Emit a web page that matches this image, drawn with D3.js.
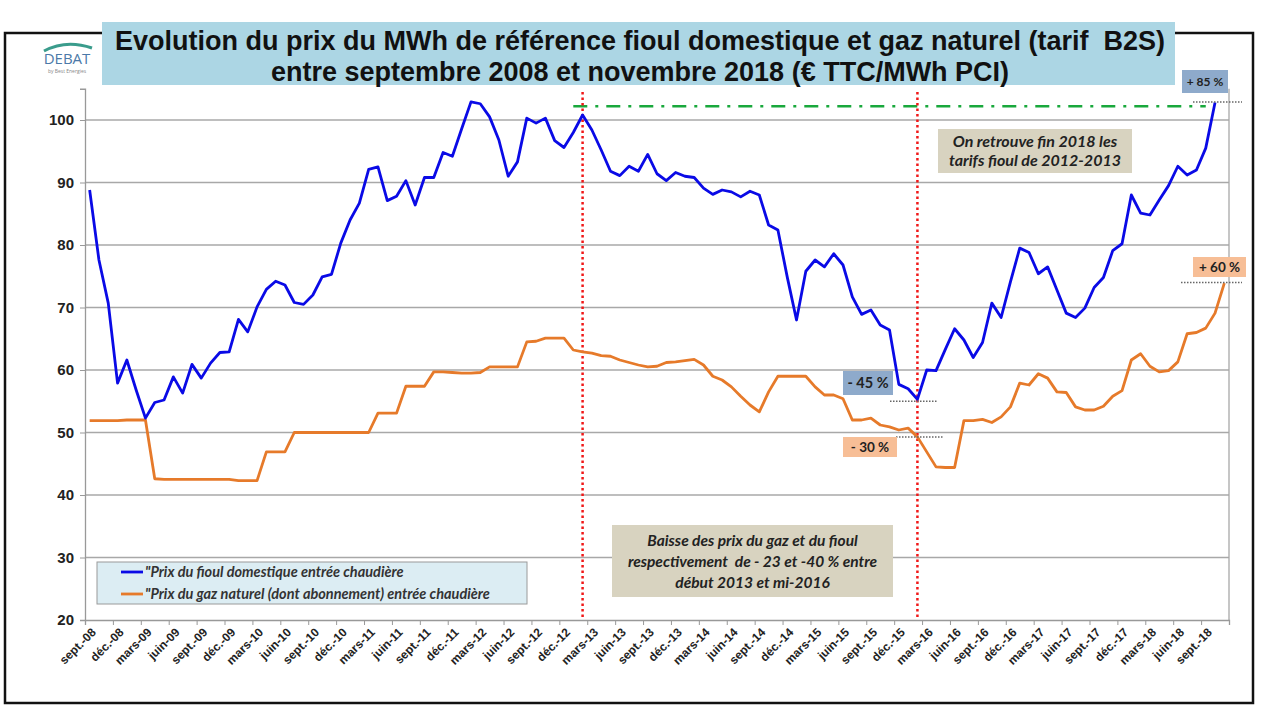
<!DOCTYPE html>
<html>
<head>
<meta charset="utf-8">
<script src="https://cdn.jsdelivr.net/npm/d3@7"></script>
<style>
  body { margin: 0; background: #fff; }
  svg { display: block; }
  .ax text { font-family: "Liberation Sans", Arial, sans-serif; font-weight: bold; fill: #222; }
  .note { font-family: Lato, "Open Sans", sans-serif; font-weight: bold; font-style: italic; fill: #222; }
</style>
</head>
<body>
<script>
// ---- data ----
// monthly categories, sept. 2008 -> nov. 2018
var months = d3.utcMonth.range(new Date(Date.UTC(2008, 8, 1)), new Date(Date.UTC(2018, 11, 1)));

var tickLabels = ["sept.-08","déc.-08","mars-09","juin-09","sept.-09","déc.-09","mars-10","juin-10",
  "sept.-10","déc.-10","mars-11","juin-11","sept.-11","déc.-11","mars-12","juin-12","sept.-12",
  "déc.-12","mars-13","juin-13","sept.-13","déc.-13","mars-14","juin-14","sept.-14","déc.-14",
  "mars-15","juin-15","sept.-15","déc.-15","mars-16","juin-16","sept.-16","déc.-16","mars-17",
  "juin-17","sept.-17","déc.-17","mars-18","juin-18","sept.-18"];

var yTicks = [20, 30, 40, 50, 60, 70, 80, 90, 100];

var fioul = [
  88.8, 77.6, 70.7, 57.9, 61.6, 56.8, 52.3, 54.8, 55.2, 58.9,
  56.3, 60.9, 58.7, 61.1, 62.8, 62.9, 68.1, 66.1, 70.1, 72.9,
  74.2, 73.6, 70.8, 70.5, 72.0, 74.9, 75.3, 80.3, 84.0, 86.7,
  92.1, 92.5, 87.1, 87.8, 90.3, 86.4, 90.8, 90.8, 94.8, 94.2,
  98.6, 102.9, 102.6, 100.5, 96.8, 91.0, 93.3, 100.3, 99.5, 100.3,
  96.7, 95.6, 98.0, 100.8, 98.4, 95.2, 91.8, 91.1, 92.6, 91.8,
  94.5, 91.4, 90.3, 91.6, 91.0, 90.8, 89.1, 88.1, 88.8, 88.5,
  87.7, 88.6, 88.0, 83.2, 82.4, 74.9, 68.0, 75.8, 77.6, 76.5,
  78.6, 76.8, 71.7, 68.9, 69.6, 67.2, 66.4, 57.7, 57.0, 55.3,
  60.0, 59.9, 63.3, 66.6, 64.8, 62.0, 64.4, 70.7, 68.4, 74.1,
  79.5, 78.8, 75.4, 76.5, 72.8, 69.1, 68.4, 69.9, 73.2, 74.8,
  79.1, 80.2, 88.0, 85.1, 84.8, 87.2, 89.5, 92.6, 91.2, 92.0,
  95.5, 102.8
];

var gaz = [
  51.9, 51.9, 51.9, 51.9, 52.0, 52.0, 52.0, 42.6, 42.5, 42.5,
  42.5, 42.5, 42.5, 42.5, 42.5, 42.5, 42.3, 42.3, 42.3, 46.9,
  46.9, 46.9, 50.0, 50.0, 50.0, 50.0, 50.0, 50.0, 50.0, 50.0,
  50.0, 53.1, 53.1, 53.1, 57.4, 57.4, 57.4, 59.7, 59.7, 59.6,
  59.5, 59.5, 59.6, 60.5, 60.5, 60.5, 60.5, 64.5, 64.6, 65.1,
  65.1, 65.1, 63.2, 62.9, 62.7, 62.3, 62.2, 61.6, 61.2, 60.8,
  60.5, 60.6, 61.2, 61.3, 61.5, 61.7, 60.8, 59.0, 58.4, 57.3,
  55.8, 54.4, 53.3, 56.5, 59.0, 59.0, 59.0, 59.0, 57.3, 56.0,
  56.0, 55.4, 52.0, 52.0, 52.3, 51.2, 50.9, 50.4, 50.7, 49.3,
  46.9, 44.5, 44.4, 44.4, 51.9, 51.9, 52.1, 51.6, 52.5, 54.1,
  57.9, 57.6, 59.4, 58.7, 56.5, 56.4, 54.1, 53.6, 53.6, 54.2,
  55.8, 56.7, 61.6, 62.6, 60.6, 59.7, 59.9, 61.3, 65.8, 66.0,
  66.7, 69.1, 73.9
];

var seriesNames = ["\"Prix du fioul domestique entrée chaudière",
                   "\"Prix du gaz naturel (dont abonnement) entrée chaudière"];

// vertical markers (début 2013, mi-2016) = category indexes
var markerIdx = [53, 89];
// green reference level "tarifs 2012-2013" from / to category
var refLevel = 102.2, refFrom = 52, refTo = 120;
// percentage callouts: value of the dotted level, label
var pctLevels = [102.9, 74.0, 55.0, 49.3];
var pctLabels = ["+ 85 %", "+ 60 %", "- 45 %", "- 30 %"];

var titleLines = ["Evolution du prix du MWh de référence fioul domestique et gaz naturel (tarif  B2S)",
                  "entre septembre 2008 et novembre 2018 (€ TTC/MWh PCI)"];

// ---- drawing ----
var W = 1280, H = 720;
var pLeft = 85, pRight = 1229, pTop = 88.75, pBottom = 620;
var blue = "#0a0ae6", orange = "#e67a2a";

var svg = d3.select("body").append("svg").attr("width", W).attr("height", H);

// outer frame
svg.append("rect").attr("x", 5).attr("y", 33).attr("width", 1248).attr("height", 670)
   .attr("fill", "none").attr("stroke", "#111").attr("stroke-width", 2.5);

var x = d3.scaleBand().domain(d3.range(months.length)).range([pLeft, pRight]);
var xb = d3.scaleLinear().domain([0, months.length]).range([pLeft, pRight]);
var y = d3.scaleLinear().domain([20, 105]).range([pBottom, pTop]);
var cx = function(i) { return x(i) + x.bandwidth() / 2; };

// gridlines
svg.append("g").selectAll("line").data(yTicks.slice(1)).join("line")
   .attr("x1", pLeft).attr("x2", pRight)
   .attr("y1", function(d) { return y(d); }).attr("y2", function(d) { return y(d); })
   .attr("stroke", "#a8a8a8").attr("stroke-width", 1.3);
// right border of plot
svg.append("line").attr("x1", pRight).attr("x2", pRight).attr("y1", pTop).attr("y2", pBottom)
   .attr("stroke", "#a8a8a8").attr("stroke-width", 1.3);

// y axis
var gy = svg.append("g").attr("class", "ax").attr("transform", "translate(" + pLeft + ",0)")
   .call(d3.axisLeft(y).tickValues(yTicks).tickSize(5).tickPadding(6));
gy.select(".domain").attr("stroke", "#999").attr("stroke-width", 1.3);
gy.selectAll(".tick line").attr("stroke", "#999");
gy.selectAll("text").style("font-size", "15px");

// x axis (ticks every 3 months)
var gx = svg.append("g").attr("class", "ax").attr("transform", "translate(0," + pBottom + ")")
   .call(d3.axisBottom(xb).tickValues(d3.range(0, months.length + 1, 3)).tickSize(5).tickFormat(""));
gx.select(".domain").attr("stroke", "#999").attr("stroke-width", 1.3);
gx.selectAll(".tick line").attr("stroke", "#999");

svg.append("g").attr("class", "ax").selectAll("text").data(tickLabels).join("text")
   .attr("transform", function(d, k) { return "translate(" + (cx(k * 3) + 7) + "," + (pBottom + 13) + ") rotate(-45)"; })
   .attr("text-anchor", "end")
   .style("font-size", "12px")
   .text(function(d) { return d; });

// title
svg.append("rect").attr("x", 102).attr("y", 22).attr("width", 1073).attr("height", 63).attr("fill", "#acd6e4");
svg.append("g").selectAll("text").data(titleLines).join("text")
   .attr("x", 640).attr("y", function(d, i) { return 50 + i * 31; })
   .attr("text-anchor", "middle")
   .style("font-family", "'Liberation Sans', Arial, sans-serif").style("font-weight", "bold")
   .style("font-size", "27px").style("fill", "#111").style("white-space", "pre")
   .text(function(d) { return d; });

// logo
svg.append("path").attr("d", "M44,51 Q66,39 92,48").attr("fill", "none")
   .attr("stroke", "#3a9c8c").attr("stroke-width", 3);
svg.append("text").attr("x", 67).attr("y", 64).attr("text-anchor", "middle")
   .style("font-family", "'Open Sans', sans-serif").style("font-size", "15px").style("fill", "#4b79a8")
   .text("DEBAT");
svg.append("text").attr("x", 67).attr("y", 73).attr("text-anchor", "middle")
   .style("font-family", "'Open Sans', sans-serif").style("font-size", "5px").style("fill", "#888")
   .text("by Best Energies");

// green dash-dot reference
svg.append("line").attr("x1", cx(refFrom)).attr("x2", cx(refTo))
   .attr("y1", y(refLevel)).attr("y2", y(refLevel))
   .attr("stroke", "#19a83c").attr("stroke-width", 2.5).attr("stroke-dasharray", "14,8,3,8");

// red dotted markers
svg.append("g").selectAll("line").data(markerIdx).join("line")
   .attr("x1", function(d) { return cx(d); }).attr("x2", function(d) { return cx(d); })
   .attr("y1", 92).attr("y2", pBottom)
   .attr("stroke", "#f01818").attr("stroke-width", 2.5).attr("stroke-dasharray", "2.5,3");

// series
var line = d3.line().x(function(d, i) { return cx(i); }).y(function(d) { return y(d); });
svg.append("path").datum(gaz).attr("d", line).attr("fill", "none")
   .attr("stroke", orange).attr("stroke-width", 2.8).attr("stroke-linejoin", "round");
svg.append("path").datum(fioul).attr("d", line).attr("fill", "none")
   .attr("stroke", blue).attr("stroke-width", 2.8).attr("stroke-linejoin", "round");

// dotted callout levels
var dotSpans = [[1193, 1242], [1181, 1242], [890, 938], [896, 944]];
svg.append("g").selectAll("line").data(pctLevels).join("line")
   .attr("x1", function(d, i) { return dotSpans[i][0]; }).attr("x2", function(d, i) { return dotSpans[i][1]; })
   .attr("y1", function(d) { return y(d); }).attr("y2", function(d) { return y(d); })
   .attr("stroke", "#666").attr("stroke-width", 1.5).attr("stroke-dasharray", "1.5,1.5");

// percentage boxes
var pctBoxes = [
  { x: 1182, y: 70, w: 46, h: 23, fill: "#8eaacb", fs: 12 },
  { x: 1193, y: 257, w: 53, h: 20, fill: "#f7be96", fs: 13.5 },
  { x: 843, y: 371, w: 50, h: 24, fill: "#8eaacb", fs: 14.5 },
  { x: 843, y: 437, w: 54, h: 20, fill: "#f7be96", fs: 13.5 }
];
pctBoxes.forEach(function(b, i) {
  svg.append("rect").attr("x", b.x).attr("y", b.y).attr("width", b.w).attr("height", b.h).attr("fill", b.fill);
  svg.append("text").attr("x", b.x + b.w / 2).attr("y", b.y + b.h / 2).attr("dy", "0.36em")
     .attr("text-anchor", "middle")
     .style("font-family", "Lato, sans-serif").style("font-weight", "bold")
     .style("font-size", b.fs + "px").style("fill", "#222")
     .text(pctLabels[i]);
});

// text notes
function note(bx, by, bw, bh, lines, fs, lh) {
  svg.append("rect").attr("x", bx).attr("y", by).attr("width", bw).attr("height", bh).attr("fill", "#d8d3c0");
  var y0 = by + bh / 2 - (lines.length - 1) * lh / 2;
  lines.forEach(function(t, i) {
    svg.append("text").attr("class", "note").attr("x", bx + bw / 2).attr("y", y0 + i * lh)
       .attr("dy", "0.36em").attr("text-anchor", "middle").style("font-size", fs + "px")
       .style("white-space", "pre").text(t);
  });
}
note(938, 129, 194, 44, ["On retrouve fin 2018 les", "tarifs fioul de 2012-2013"], 16, 19);
note(612, 525, 281, 72, ["Baisse des prix du gaz et du fioul", "respectivement  de - 23 et -40 % entre", "début 2013 et mi-2016"], 15.5, 21);

// legend
var lg = svg.append("g");
lg.append("rect").attr("x", 97).attr("y", 562).attr("width", 430).attr("height", 42)
  .attr("fill", "#dcedf3").attr("stroke", "#9a9a9a").attr("stroke-width", 1);
[blue, orange].forEach(function(c, i) {
  var yy = 572 + i * 22;
  lg.append("line").attr("x1", 121).attr("x2", 143).attr("y1", yy).attr("y2", yy)
    .attr("stroke", c).attr("stroke-width", 2.8);
  lg.append("text").attr("class", "note").attr("x", 145).attr("y", yy).attr("dy", "0.36em")
    .style("font-size", "14.5px").style("fill", "#333").text(seriesNames[i]);
});
</script>
</body>
</html>
